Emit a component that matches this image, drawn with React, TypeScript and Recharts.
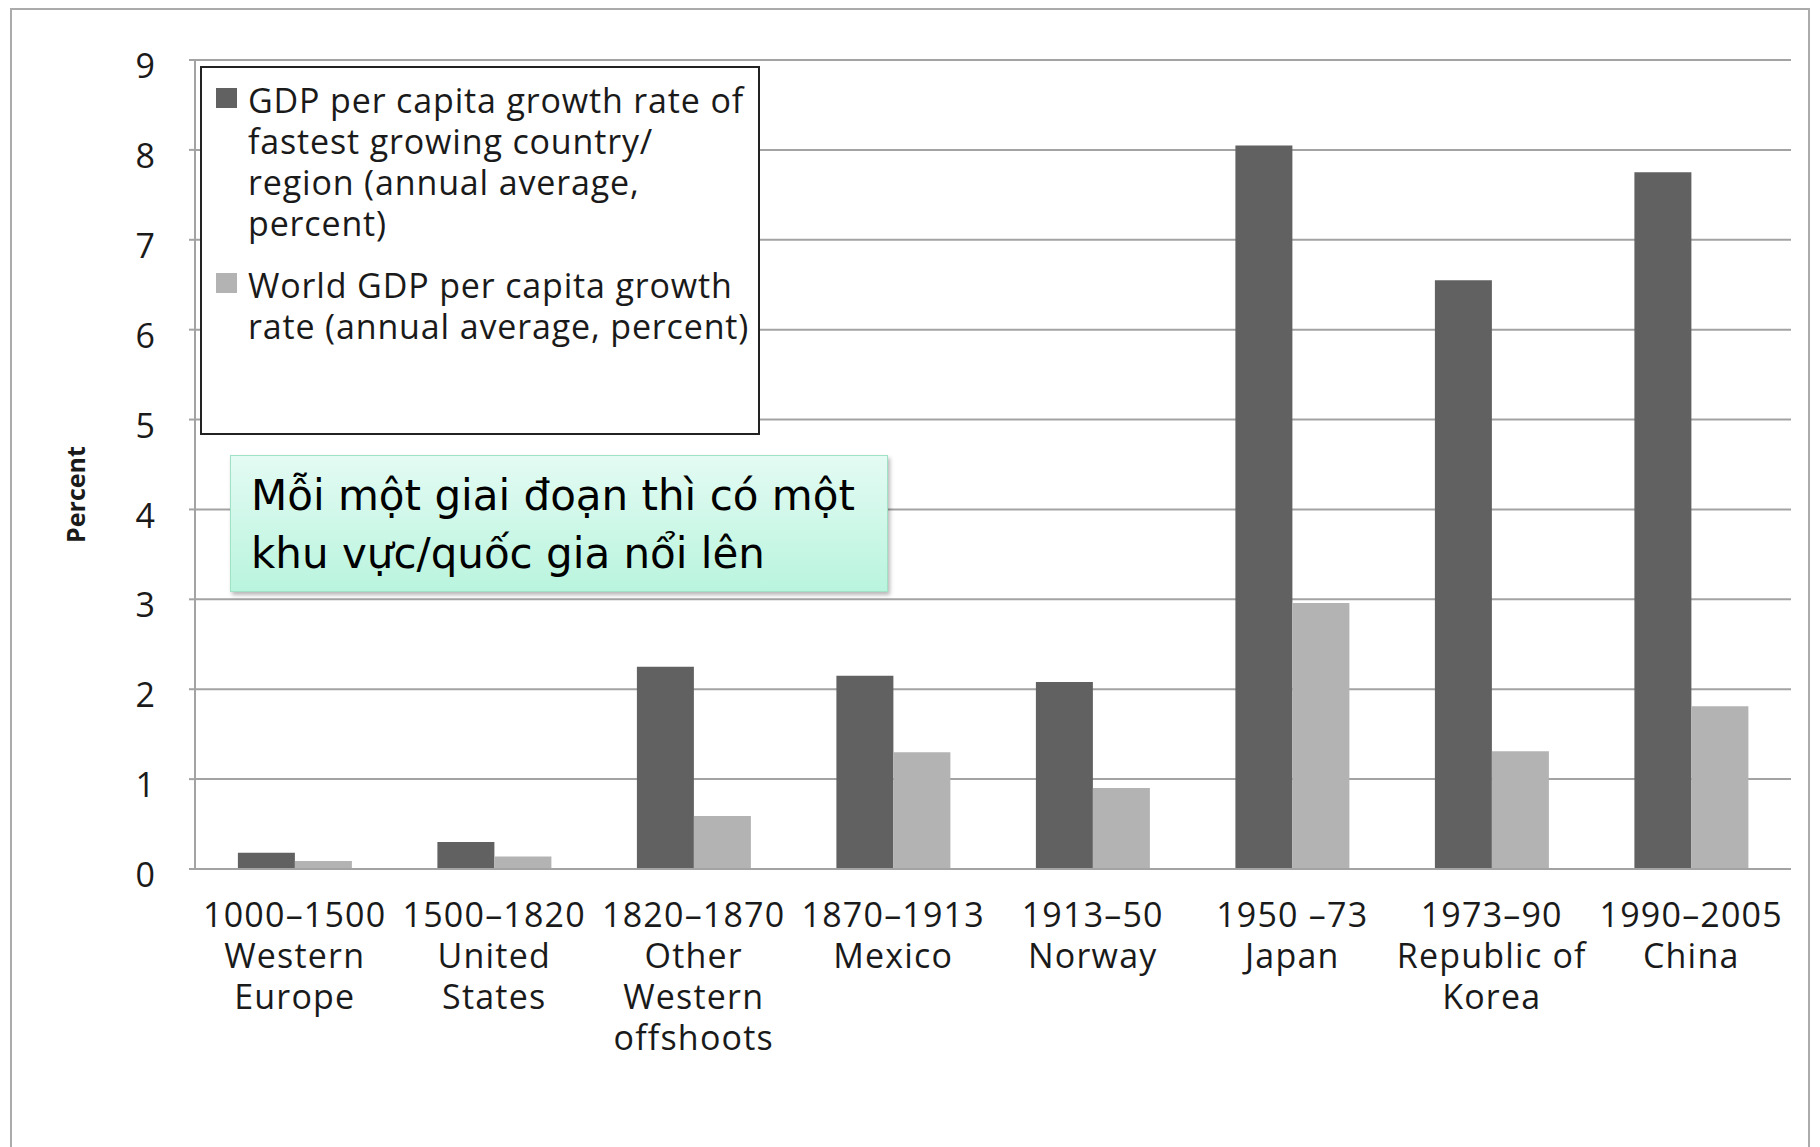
import React from 'react';
import { BarChart, Bar, XAxis, YAxis, CartesianGrid, Legend } from 'recharts';

const periods = ['1000–1500', '1500–1820', '1820–1870', '1870–1913', '1913–50', '1950 –73', '1973–90', '1990–2005'];
const regions = [
  ['Western', 'Europe'],
  ['United', 'States'],
  ['Other', 'Western', 'offshoots'],
  ['Mexico'],
  ['Norway'],
  ['Japan'],
  ['Republic of', 'Korea'],
  ['China'],
];
const fastestGrowth = [0.18, 0.3, 2.25, 2.15, 2.08, 8.05, 6.55, 7.75];
const worldGrowth = [0.09, 0.14, 0.59, 1.3, 0.9, 2.96, 1.31, 1.81];
const yTicks = [0, 1, 2, 3, 4, 5, 6, 7, 8, 9];
const seriesNames = [
  'GDP per capita growth rate of fastest growing country/region (annual average, percent)',
  'World GDP per capita growth rate (annual average, percent)',
];
const legendLines = [
  ['GDP per capita growth rate of', 'fastest growing country/', 'region (annual average,', 'percent)'],
  ['World GDP per capita growth', 'rate (annual average, percent)'],
];
const yAxisTitle = 'Percent';
const noteLines = ['Mỗi một giai đoạn thì có một', 'khu vực/quốc gia nổi lên'];

const data = periods.map((p, i) => ({
  period: p,
  fastest: fastestGrowth[i],
  world: worldGrowth[i],
}));

const FONT = '"Open Sans", sans-serif';
const TEXT = '#1a1a1a';
const GRID = '#a3a3a3';
const DARK = '#616161';
const LIGHT = '#b3b3b3';

const XTick = (props: any) => {
  const { x, y, payload } = props;
  const lines = [payload.value, ...regions[payload.index]];
  return (
    <text x={x} y={y} textAnchor="middle" fill={TEXT} fontSize={34} fontFamily={FONT} letterSpacing={1.2}>
      {lines.map((l: string, i: number) => (
        <tspan key={i} x={x} dy={i === 0 ? 58 : 41}>
          {l}
        </tspan>
      ))}
    </text>
  );
};

const YTitle = (props: any) => {
  const { viewBox } = props;
  const cx = viewBox.x - 40;
  const cy = viewBox.y + viewBox.height / 2 + 30;
  return (
    <text
      x={cx}
      y={cy}
      transform={`rotate(-90 ${cx} ${cy})`}
      textAnchor="middle"
      dominantBaseline="central"
      fill={TEXT}
      fontSize={25}
      fontWeight={700}
      fontFamily={FONT}
    >
      {yAxisTitle}
    </text>
  );
};

const LegendBox = (props: any) => {
  const { payload } = props;
  const tops = [12, 197];
  return (
    <div
      style={{
        position: 'relative',
        width: 556,
        height: 365,
        border: '2px solid #222',
        background: '#fff',
        fontFamily: FONT,
        fontSize: 34,
        lineHeight: '41px',
        letterSpacing: 0.85,
        color: TEXT,
      }}
    >
      {(payload || []).map((entry: any, i: number) => (
        <div key={i} style={{ position: 'absolute', left: 14, top: tops[i] }}>
          <div
            style={{
              position: 'absolute',
              left: 0,
              top: 8,
              width: 21,
              height: 20,
              background: entry.color,
            }}
          />
          <div style={{ position: 'absolute', left: 32, top: 0, whiteSpace: 'nowrap' }}>
            {legendLines[i].map((l, j) => (
              <div key={j}>{l}</div>
            ))}
          </div>
        </div>
      ))}
    </div>
  );
};

export default function App() {
  return (
    <div
      style={{
        position: 'absolute',
        left: 0,
        top: 0,
        width: 1820,
        height: 1147,
        overflow: 'hidden',
        background: '#fff',
        fontFamily: FONT,
      }}
    >
      <div
        style={{
          position: 'absolute',
          left: 10,
          top: 8,
          width: 1800,
          height: 1300,
          border: '2px solid #ababab',
          boxSizing: 'border-box',
        }}
      />
      <div style={{ position: 'absolute', left: 0, top: 0 }}>
        <BarChart
          width={1820}
          height={1147}
          data={data}
          margin={{ top: 60, right: 29, bottom: 78, left: 115 }}
          barCategoryGap="21.5%"
          barGap={0}
        >
          <CartesianGrid vertical={false} stroke={GRID} strokeWidth={2} />
          <XAxis
            dataKey="period"
            interval={0}
            height={200}
            tickSize={0}
            tickMargin={0}
            tickLine={false}
            axisLine={{ stroke: GRID, strokeWidth: 2 }}
            tick={<XTick />}
          />
          <YAxis
            width={80}
            domain={[0, 9]}
            ticks={yTicks}
            interval={0}
            tickSize={6}
            tickMargin={34}
            tickLine={{ stroke: GRID, strokeWidth: 2 }}
            axisLine={{ stroke: GRID, strokeWidth: 2 }}
            tick={{ fill: TEXT, fontSize: 34, fontFamily: FONT, dy: 6 }}
            label={<YTitle />}
          />
          <Legend
            layout="horizontal"
            align="center"
            verticalAlign="middle"
            wrapperStyle={{ left: 200, top: 66, width: 560, height: 369 }}
            content={<LegendBox />}
          />
          <Bar dataKey="fastest" name={seriesNames[0]} fill={DARK} isAnimationActive={false} />
          <Bar dataKey="world" name={seriesNames[1]} fill={LIGHT} isAnimationActive={false} />
        </BarChart>
      </div>
      <div
        style={{
          position: 'absolute',
          left: 230,
          top: 455,
          width: 658,
          height: 137,
          boxSizing: 'border-box',
          background: 'linear-gradient(#e4fbf3, #b9f4de)',
          border: '1.5px solid #9fe2c6',
          boxShadow: '2px 3px 4px rgba(0,0,0,0.28)',
          padding: '11px 0 0 20px',
          fontFamily: '"DejaVu Sans", sans-serif',
          fontSize: 42,
          lineHeight: '58px',
          color: '#000',
          whiteSpace: 'nowrap',
        }}
      >
        {noteLines.map((l, i) => (
          <div key={i}>{l}</div>
        ))}
      </div>
    </div>
  );
}
